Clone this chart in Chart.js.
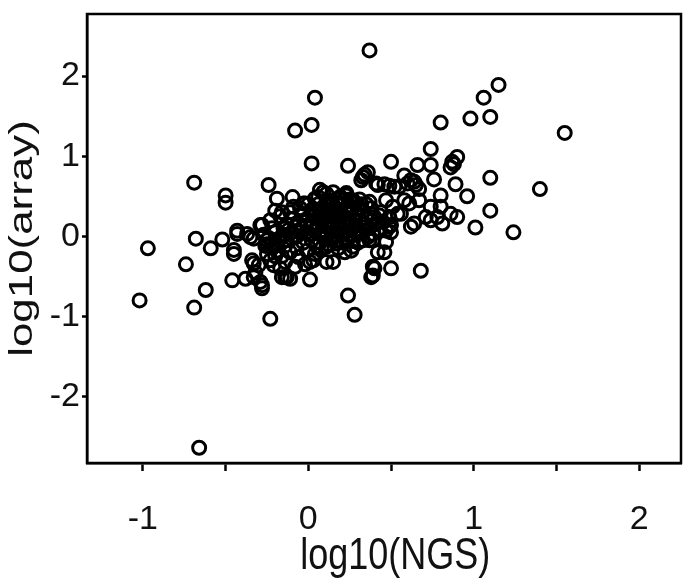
<!DOCTYPE html>
<html>
<head>
<meta charset="utf-8">
<script src="https://cdn.jsdelivr.net/npm/chart.js@4/dist/chart.umd.min.js"></script>
<style>
html,body{margin:0;padding:0;background:#fff;}
#wrap{width:697px;height:587px;position:relative;}
</style>
</head>
<body>
<div id="wrap"><canvas id="c" width="697" height="587"></canvas></div>
<script>
const xTitle = 'log10(NGS)';
const yTitle = 'log10(array)';
const xTicks = [-1, -0.5, 0, 0.5, 1, 1.5, 2];
const xTickLabels = ['-1', '', '0', '', '1', '', '2'];
const yTicks = [-2, -1, 0, 1, 2];
const yTickLabels = ['-2', '-1', '0', '1', '2'];

const xNGS = [
 0.37, 0.04, 0.02, -0.08, 0.02, 0.24, -0.69, -0.50, -0.50, -0.24,
 0.34, 0.36, 0.33, 0.32, 0.41, 1.15, 1.06, 0.98, 1.10, 0.80,
 1.55, 0.74, 0.50, 0.90, 0.87, 0.86, 0.88, 0.66, 0.74, 0.76,
 0.58, 0.62, 0.64, 1.10, 0.89, 0.80, 0.96, 1.40, 1.10, 1.01,
 1.24, 0.42, 0.46, 0.49, 0.52, 0.55, 0.60, 0.65, 0.67, 0.07,
 0.11, 0.15, 0.19, 0.23, 0.27, 0.37, 0.47, 0.51, 0.61, 0.67,
 0.74, 0.80, 0.86, 0.90, 0.78, 0.74, 0.81, 0.64, 0.62, 0.71,
 0.49, 0.47, 0.58, 0.56, 0.50, 0.43, 0.49, 0.54, 0.38, 0.40,
 0.39, 0.39, 0.46, 0.47, 0.50, 0.68, 0.50, 0.39, 0.40, 0.42,
 0.24, 0.28, 0.15, 0.11, 0.01, 0.01, 0.17, 0.11, 0.27, 0.33,
 0.37, -0.97, -1.02, -0.68, -0.74, -0.59, -0.62, -0.69, -0.52, -0.45,
 -0.45, -0.43, -0.43, -0.46, -0.38, -0.33, -0.28, -0.34, -0.33, -0.28,
 -0.28, -0.23, -0.13, -0.16, -0.66, -0.29, -0.37, -0.35, -0.33, -0.25,
 -0.22, -0.21, -0.25, -0.23, -0.21, -0.17, -0.30, -0.32, -0.19, -0.095,
 -0.20, -0.16, 0.09, 0.06, 0.23, 0.22, -0.02, -0.09, -0.03, 0.04,
 0.11, 0.38, 0.39, -0.29, -0.14, -0.11,
 -0.27, -0.24, -0.20, -0.18, -0.15, -0.14, -0.12, -0.10, -0.08, -0.07,
 -0.05, -0.03, -0.02, 0.00, 0.01, 0.02, 0.03, 0.04, 0.05, 0.06,
 0.07, 0.08, 0.09, 0.10, 0.11, 0.12, 0.13, 0.14, 0.15, 0.16,
 0.17, 0.18, 0.19, 0.20, 0.21, 0.22, 0.23, 0.24, 0.25, 0.26,
 0.27, 0.28, 0.29, 0.30, 0.31, 0.32, 0.33, 0.34, 0.35, 0.36,
 -0.22, -0.19, -0.16, -0.13, -0.11, -0.09, -0.06, -0.04, -0.01, 0.02,
 0.04, 0.06, 0.08, 0.10, 0.12, 0.14, 0.16, 0.18, 0.20, 0.22,
 0.24, 0.26, 0.28, 0.30, 0.32, -0.26, -0.23, -0.20, -0.17, -0.14,
 -0.11, -0.08, -0.05, -0.02, 0.00, 0.03, 0.05, 0.07, 0.09, 0.11,
 0.13, 0.15, 0.17, 0.19, 0.21, 0.23, 0.25, 0.27, 0.29, 0.31,
 0.33, 0.35, 0.37, 0.38, 0.40, 0.42, 0.44, 0.45,
 -0.25, -0.20, -0.17, -0.13, -0.10, -0.07, -0.04, -0.01, 0.02, 0.05,
 0.08, 0.10, 0.12, 0.14, 0.16, 0.18, 0.20, 0.22, 0.24, 0.26,
 0.28, 0.30, 0.05, 0.09, 0.17, -0.06, -0.15, 0.13, 0.21, 0.25
];
const yArray = [
 2.32, 1.73, 1.39, 1.32, 0.91, 0.88, 0.67, 0.51, 0.42, 0.64,
 0.77, 0.80, 0.74, 0.70, 0.66, 1.89, 1.73, 1.47, 1.49, 1.42,
 1.29, 1.09, 0.93, 0.99, 0.93, 0.86, 0.90, 0.89, 0.89, 0.71,
 0.76, 0.70, 0.68, 0.73, 0.65, 0.51, 0.50, 0.59, 0.32, 0.11,
 0.05, 0.64, 0.65, 0.63, 0.62, 0.62, 0.66, 0.64, 0.59, 0.58,
 0.53, 0.55, 0.49, 0.51, 0.45, 0.43, 0.45, 0.37, 0.41, 0.45,
 0.37, 0.37, 0.28, 0.24, 0.24, 0.20, 0.16, 0.16, 0.12, 0.24,
 0.12, 0.07, 0.45, 0.28, 0.14, 0.26, 0.24, 0.28, 0.28, 0.24,
 0.03, -0.05, -0.20, -0.07, 0.05, -0.43, -0.40, -0.49, -0.40, -0.20,
 -0.74, -0.98, -0.32, -0.32, -0.32, -0.54, -0.09, -0.13, -0.13, -0.05,
 -0.05, -0.15, -0.80, -0.03, -0.35, -0.15, -0.67, -0.89, -0.04, -0.17,
 -0.22, 0.07, 0.03, -0.55, -0.53, -0.51, 0.14, -0.30, -0.34, -0.61,
 -0.65, -1.03, -0.51, -0.51, -2.64, -0.57, 0.03, -0.01, -0.03, -0.05,
 -0.09, -0.13, -0.22, -0.30, -0.36, -0.40, -0.36, -0.45, 0.47, 0.49,
 0.32, 0.30, 0.55, 0.49, 0.54, 0.45, 0.41, 0.37, 0.41, 0.47,
 0.45, -0.51, -0.38, 0.14, -0.51, -0.53,
 0.02, -0.02, 0.05, -0.06, 0.02, -0.12, 0.08, -0.03, 0.12, -0.15,
 0.05, -0.08, 0.18, 0.02, 0.10, -0.05, 0.25, 0.07, -0.12, 0.15,
 0.32, 0.03, 0.22, -0.02, 0.12, 0.38, 0.27, 0.05, 0.18, -0.06,
 0.33, 0.10, 0.24, 0.02, 0.41, 0.15, 0.30, -0.03, 0.20, 0.08,
 0.36, 0.13, 0.26, -0.08, 0.18, 0.05, 0.31, 0.11, 0.22, -0.01,
 0.10, -0.18, -0.25, 0.15, -0.20, 0.22, -0.26, 0.28, -0.18, 0.33,
 -0.22, 0.40, -0.15, 0.28, -0.10, 0.44, 0.36, -0.15, 0.48, -0.20,
 0.38, -0.18, 0.42, 0.35, 0.40, -0.12, 0.20, -0.25, 0.25, -0.32,
 0.30, -0.38, 0.35, -0.35, 0.40, -0.30, 0.22, -0.08, 0.08, 0.02,
 -0.04, 0.30, 0.00, 0.14, -0.08, 0.06, 0.46, -0.06, 0.04, 0.46,
 0.16, 0.40, 0.10, 0.35, 0.15, 0.08, 0.30, 0.18,
 -0.10, -0.12, -0.02, -0.05, 0.05, 0.00, 0.10, 0.05, 0.15, 0.10,
 0.18, 0.25, 0.20, 0.28, 0.22, 0.30, 0.25, 0.34, 0.28, 0.32,
 0.22, 0.28, 0.30, 0.36, 0.42, 0.16, 0.10, 0.12, 0.20, 0.14
];

const points = xNGS.map((x, i) => ({x: x, y: yArray[i]}));
const FAMILY = '"Liberation Sans", Arial, Helvetica, sans-serif';

const boxPlugin = {
  id: 'box',
  afterDraw(chart) {
    const a = chart.chartArea, ctx = chart.ctx;
    ctx.save();
    ctx.strokeStyle = '#000';
    ctx.lineWidth = 2.5;
    ctx.strokeRect(a.left, a.top, a.right - a.left, a.bottom - a.top);
    ctx.restore();
  }
};

// Axis titles: drawn as canvas text, slightly taller than wide like the reference lettering
const titlePlugin = {
  id: 'axisTitles',
  afterDraw(chart) {
    const ctx = chart.ctx, a = chart.chartArea;
    ctx.save();
    ctx.fillStyle = '#111';
    ctx.textAlign = 'center';
    ctx.textBaseline = 'middle';
    ctx.font = '36px ' + FAMILY;
    ctx.translate(a.left + (a.right - a.left) * 0.519, 557);
    ctx.scale(1, 1.25);
    ctx.fillText(xTitle, 0, 0);
    ctx.restore();

    ctx.save();
    ctx.fillStyle = '#111';
    ctx.textAlign = 'center';
    ctx.textBaseline = 'middle';
    ctx.font = '33px ' + FAMILY;
    ctx.translate(23, (a.top + a.bottom) / 2);
    ctx.rotate(-Math.PI / 2);
    ctx.scale(1.33, 1);
    ctx.fillText(yTitle, 0, 0);
    ctx.restore();
  }
};

const tickFont = {family: FAMILY, size: 34};

new Chart(document.getElementById('c'), {
  type: 'scatter',
  data: {
    datasets: [{
      data: points,
      pointStyle: 'circle',
      pointRadius: 6.5,
      pointHoverRadius: 6.5,
      borderWidth: 3,
      borderColor: '#000',
      backgroundColor: 'rgba(0,0,0,0)'
    }]
  },
  options: {
    responsive: false,
    animation: false,
    devicePixelRatio: 1,
    layout: {padding: {left: 0, right: 16, top: 14, bottom: 0}},
    plugins: {legend: {display: false}, tooltip: {enabled: false}},
    scales: {
      x: {
        type: 'linear',
        min: -1.338,
        max: 2.253,
        afterBuildTicks: s => { s.ticks = xTicks.map(v => ({value: v})); },
        afterFit: s => { s.height = 124; s.paddingLeft = 0; s.paddingRight = 0; },
        ticks: {
          font: tickFont, color: '#111', padding: 28, maxRotation: 0, autoSkip: false,
          callback: (v) => { const i = xTicks.indexOf(v); return i >= 0 ? xTickLabels[i] : ''; }
        },
        grid: {display: true, drawOnChartArea: false, drawTicks: true, tickLength: 8, tickColor: '#000', tickWidth: 2.5},
        border: {display: true, color: '#000', width: 2.5},
        title: {display: false, text: xTitle}
      },
      y: {
        type: 'linear',
        min: -2.83,
        max: 2.775,
        afterBuildTicks: s => { s.ticks = yTicks.map(v => ({value: v})); },
        afterFit: s => { s.width = 87; s.paddingTop = 0; s.paddingBottom = 0; },
        ticks: {
          font: tickFont, color: '#111', padding: 2, autoSkip: false,
          callback: (v) => { const i = yTicks.indexOf(v); return i >= 0 ? yTickLabels[i] : ''; }
        },
        grid: {display: true, drawOnChartArea: false, drawTicks: true, tickLength: 5, tickColor: '#000', tickWidth: 2.5},
        border: {display: true, color: '#000', width: 2.5},
        title: {display: false, text: yTitle}
      }
    }
  },
  plugins: [boxPlugin, titlePlugin]
});
</script>
</body>
</html>
